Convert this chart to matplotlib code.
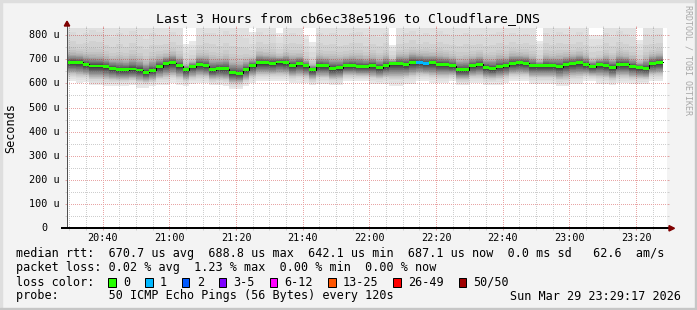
import numpy as np
import matplotlib
matplotlib.use("Agg")
import matplotlib.pyplot as plt
from matplotlib.patches import Rectangle, Polygon
from matplotlib.lines import Line2D
from matplotlib.ticker import MultipleLocator, FuncFormatter
import matplotlib.transforms as mtransforms

W, H = 697, 310
MONO = "DejaVu Sans Mono"

# 120 s steps, end times in minutes after 20:00 (20:30 .. 23:28)
step_end = np.arange(30, 209, 2)

# median rtt per step, microseconds
median_us = [
    688, 688, 688, 679, 673, 673, 670, 663, 657, 657,
    660, 656, 646, 654, 670, 682, 686, 674, 657, 670,
    679, 674, 657, 661, 661, 644, 642.1, 657, 674, 686,
    686, 683, 688.8, 686, 674, 682, 674, 657, 674, 674,
    662, 665, 674, 674, 670, 670, 674, 666, 674, 683,
    683, 679, 688, 688, 683, 686, 679, 679, 674, 657,
    657, 674, 679, 666, 662, 670, 674, 683, 686, 683,
    674, 674, 674, 674, 670, 679, 683, 686, 679, 670,
    679, 674, 666, 679, 679, 670, 666, 662, 683, 687.1,
]
# lowest ping per step
low_us = [
    608, 608, 601, 605, 592, 592, 588, 588, 588, 588,
    592, 583, 583, 588, 594, 594, 601, 594, 590, 598,
    601, 601, 592, 592, 590, 577, 577, 588, 601, 608,
    608, 608, 608, 608, 601, 601, 601, 592, 598, 598,
    592, 592, 608, 608, 608, 608, 598, 598, 598, 590,
    590, 598, 598, 608, 608, 601, 601, 601, 608, 592,
    592, 601, 601, 595, 595, 595, 601, 608, 608, 608,
    598, 598, 598, 598, 588, 588, 598, 598, 608, 608,
    598, 598, 592, 601, 601, 598, 598, 598, 608, 608,
]
# highest ping per step
high_us = [
    890, 880, 860, 880, 900, 890, 870, 860, 890, 870,
    900, 880, 860, 890, 870, 860, 880, 860, 765, 775,
    860, 880, 890, 870, 900, 890, 880, 860, 815, 880,
    860, 870, 810, 860, 880, 860, 800, 770, 880, 860,
    890, 870, 860, 880, 890, 860, 870, 860, 880, 760,
    860, 880, 890, 860, 880, 860, 890, 870, 860, 880,
    890, 860, 870, 860, 880, 890, 860, 880, 860, 870,
    860, 775, 880, 860, 890, 870, 860, 880, 860, 800,
    800, 880, 860, 890, 870, 860, 780, 880, 860, 870,
]
# lost pings per step (of 50)
loss = [0] * 53 + [1, 1] + [0] * 35

# smoke profile: where each sorted ping pair sits, as share of the spread
lower_share = [1.00, 0.86, 0.76, 0.70, 0.65, 0.61, 0.58, 0.55, 0.52, 0.49,
               0.46, 0.43, 0.40, 0.37, 0.34, 0.31, 0.28, 0.25, 0.22, 0.19,
               0.16, 0.13, 0.10, 0.07, 0.03]
upper_share = [1.00, 0.87, 0.65, 0.45, 0.32, 0.26, 0.22, 0.19, 0.165, 0.15,
               0.14, 0.125, 0.115, 0.10, 0.085, 0.075, 0.065, 0.055, 0.045, 0.038,
               0.03, 0.022, 0.015, 0.01, 0.005]

loss_labels = ["0", "1", "2", "3-5", "6-12", "13-25", "26-49", "50/50"]
loss_colors = ["#26ff00", "#00b8ff", "#0059ff", "#7e00ff", "#ff00ff",
               "#ff5500", "#ff0000", "#a00000"]
loss_edges = [0, 1, 2, 3, 6, 13, 26, 50]

legend_lines = [
    "median rtt:  670.7 us avg  688.8 us max  642.1 us min  687.1 us now  0.0 ms sd   62.6  am/s",
    "packet loss: 0.02 % avg  1.23 % max  0.00 % min  0.00 % now",
    "loss color:",
    "probe:       50 ICMP Echo Pings (56 Bytes) every 120s",
]
stamp = "Sun Mar 29 23:29:17 2026"
title = "Last 3 Hours from cb6ec38e5196 to Cloudflare_DNS"

assert len(median_us) == len(low_us) == len(high_us) == len(loss) == len(step_end)


def fx(x):
    return x / W


def fy(y):
    return 1 - y / H


X0, X1 = 29 + 17 / 60, 209 + 17 / 60
Y0, Y1 = 0, 830
PL, PB, PW, PH = 67, 82, 600, 200   # plot area in pixels (left, bottom)

fig = plt.figure(figsize=(W / 100, H / 100), dpi=100)
fig.patch.set_facecolor("#f3f3f3")
rect = [PL / W, PB / H, PW / W, PH / H]
ax = fig.add_axes(rect, zorder=0)
ax.set_facecolor("white")
ax.set_xlim(X0, X1)
ax.set_ylim(Y0, Y1)

med = np.array(median_us, float)
lo = np.array(low_us, float)
hi = np.array(high_us, float)
edges = np.append(step_end - 2, step_end[-1])


def ext(a):
    return np.append(a, a[-1])


# smoke, outer pairs light, inner pairs dark
for i in range(25):
    g = int(190 / 25 * (25 - (i + 1))) + 50
    col = "#%02x%02x%02x" % (g, g, g)
    band_lo = med - (med - lo) * lower_share[i]
    band_hi = med + (hi - med) * upper_share[i]
    ax.fill_between(edges, ext(band_lo), ext(band_hi), step="post",
                    color=col, lw=0, zorder=1)

# dotted grid as an unscaled pixel overlay (1 px on / 1 px off)
grid = np.zeros((PH, PW, 4))
minor_rgba = (0.55, 0.55, 0.55, 0.42)
major_rgba = (0.78, 0.12, 0.12, 0.40)
for t in np.arange(30, 210, 5):
    c = int(round((t - X0) / (X1 - X0) * PW))
    if 0 <= c < PW:
        grid[::2, c] = major_rgba if t % 20 == 0 else minor_rgba
for v in range(50, 830, 50):
    r = int(round((Y1 - v) / (Y1 - Y0) * PH))
    if 0 <= r < PH:
        grid[r, ::2] = major_rgba if v % 100 == 0 else minor_rgba
fig.figimage(grid, xo=PL, yo=PB, origin="upper", zorder=1)

# median on an overlay axes so it sits above the grid
ax2 = fig.add_axes(rect, zorder=2)
ax2.set_xlim(X0, X1)
ax2.set_ylim(Y0, Y1)
ax2.patch.set_visible(False)
ax2.axis("off")
ax2.step(edges, ext(med), where="post", color="#000000", lw=0.72)
bar_cols = []
for n in loss:
    k = max(j for j, e in enumerate(loss_edges) if n >= e)
    bar_cols.append(loss_colors[k])
ax2.bar(step_end - 2, 11, bottom=med - 5.5, width=2, align="edge",
        color=bar_cols, lw=0, zorder=4)

ax.xaxis.set_major_locator(MultipleLocator(20))
ax.xaxis.set_minor_locator(MultipleLocator(5))
ax.yaxis.set_major_locator(MultipleLocator(100))
ax.yaxis.set_minor_locator(MultipleLocator(50))
for s in ax.spines.values():
    s.set_visible(False)
ax.tick_params(which="both", direction="out", length=1.44, width=0.72,
               left=True, right=True, top=True, bottom=True, labelleft=False)
ax.tick_params(which="major", color="#e0a5a5")
ax.tick_params(which="minor", color="#d0d0d0")
ax.tick_params(axis="x", which="major", labelsize=7.25, pad=2.2)
ax.xaxis.set_major_formatter(FuncFormatter(
    lambda v, p: "%d:%02d" % (20 + int(v) // 60, int(v) % 60)))
for t in ax.get_xticklabels():
    t.set_fontfamily(MONO)

# y labels
ytrans = mtransforms.blended_transform_factory(fig.transFigure, ax.transData)
for v in range(0, 900, 100):
    if v > 830:
        break
    if v == 0:
        ax.text(fx(47.8), v, "0", transform=ytrans, ha="right", va="center",
                fontsize=7.25, family=MONO)
    else:
        ax.text(fx(59.9), v, "%d u" % v, transform=ytrans, ha="right",
                va="center", fontsize=7.25, family=MONO)

# axes lines and arrows
fig.add_artist(Line2D([fx(67), fx(67)], [fy(228.3), fy(25)], color="#505050",
                      lw=0.72, zorder=3))
fig.add_artist(Line2D([fx(62), fx(669.5)], [fy(228.3), fy(228.3)],
                      color="#000000", lw=1.44, zorder=3))
fig.add_artist(Polygon([(fx(669), fy(225.6)), (fx(674.5), fy(228.3)),
                        (fx(669), fy(231))], closed=True, color="#7f0000",
                       transform=fig.transFigure, zorder=3))
fig.add_artist(Polygon([(fx(64.3), fy(26)), (fx(67), fy(21.2)),
                        (fx(69.7), fy(26))], closed=True, color="#7f0000",
                       transform=fig.transFigure, zorder=3))

# texts
fig.text(fx(348.5), fy(19), title, ha="center", va="center", fontsize=9.5,
         family=MONO)
fig.text(fx(10.5), fy(128.3), "Seconds", rotation=90, ha="center",
         va="center", fontsize=8.47, family=MONO)
fig.text(fx(688), fy(60), "RRDTOOL / TOBI OETIKER", rotation=270,
         ha="center", va="center", fontsize=6, family=MONO, color="#a8a8a8")

base = [257.5, 271.5, 285.5, 299.5]
for line, y in zip(legend_lines, base):
    fig.text(fx(15.7), fy(y), line, ha="left", va="baseline", fontsize=8.47,
             family=MONO)
fig.text(fx(680.8), fy(base[3]), stamp, ha="right", va="baseline",
         fontsize=8.47, family=MONO)

cw = 7.08
bx = 108.3
for lab, col in zip(loss_labels, loss_colors):
    fig.add_artist(Rectangle((fx(bx), fy(286.5)), 7.4 / W, 8.2 / H,
                             facecolor=col, edgecolor="black", lw=0.72,
                             transform=fig.transFigure))
    fig.text(fx(bx + 14.6), fy(base[2]), lab, ha="left", va="baseline",
             fontsize=8.47, family=MONO)
    bx += 29.8 + cw * len(lab)

# border shading
fig.add_artist(Rectangle((0, 0), 2 / W, 1, color="#dedede",
                         transform=fig.transFigure))
fig.add_artist(Rectangle((0, 1 - 2 / H), 1, 2 / H, color="#dedede",
                         transform=fig.transFigure))
fig.add_artist(Rectangle((1 - 2 / W, 0), 2 / W, 1, color="#c6c6c6",
                         transform=fig.transFigure))
fig.add_artist(Rectangle((0, 0), 1, 2 / H, color="#c6c6c6",
                         transform=fig.transFigure))

fig.savefig("out.png", dpi=100, facecolor=fig.get_facecolor())
